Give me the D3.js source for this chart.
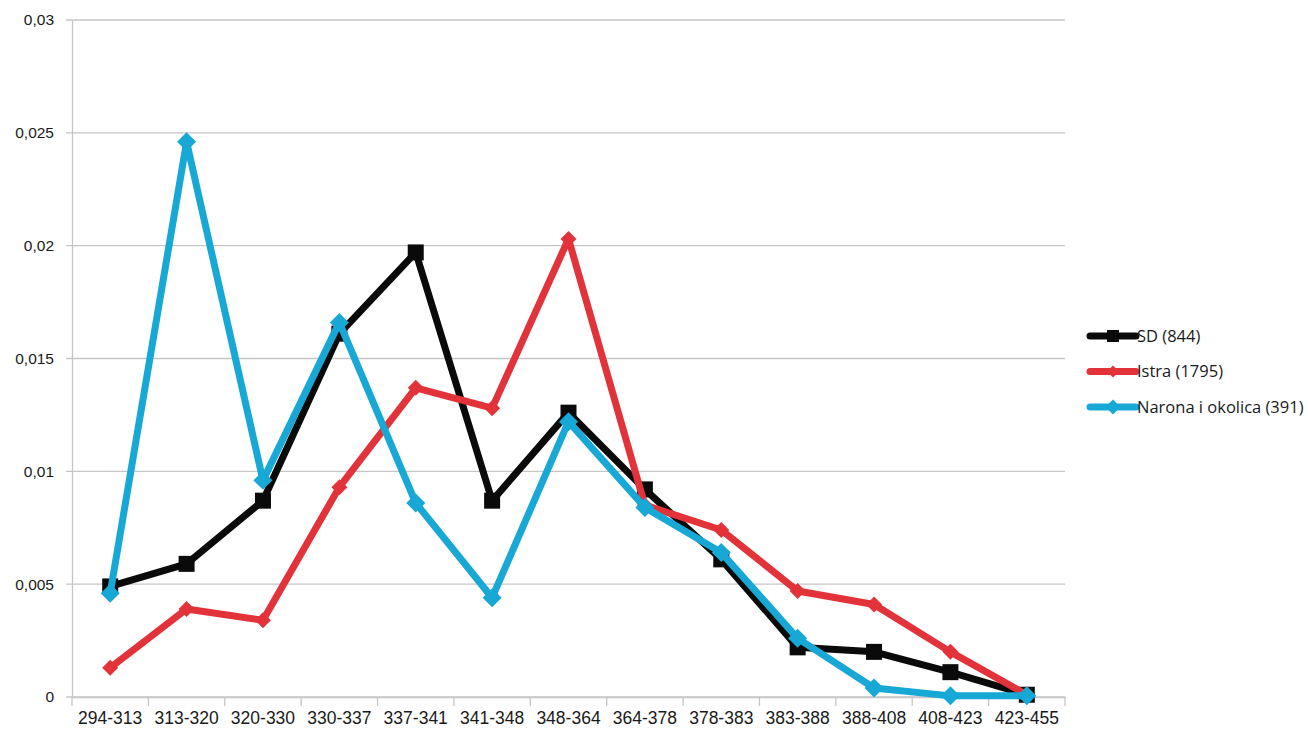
<!DOCTYPE html>
<html>
<head>
<meta charset="utf-8">
<script src="https://cdn.jsdelivr.net/npm/d3@7"></script>
<style>
  body { margin: 0; background: #fff; }
  svg { display: block; font-family: "Open Sans", sans-serif; }
</style>
</head>
<body>
<svg id="chart" width="1308" height="731"></svg>
<script>
// categories (x axis)
const categories = ["294-313", "313-320", "320-330", "330-337", "337-341", "341-348", "348-364",
                    "364-378", "378-383", "383-388", "388-408", "408-423", "423-455"];

// series values
const sdValues     = [0.0049, 0.0059, 0.0087, 0.0161, 0.0197, 0.0087, 0.0126, 0.0092, 0.0061, 0.0022, 0.0020, 0.0011, 0.0001];
const istraValues  = [0.0013, 0.0039, 0.0034, 0.0093, 0.0137, 0.0128, 0.0203, 0.0085, 0.0074, 0.0047, 0.0041, 0.0020, 0.0001];
const naronaValues = [0.0046, 0.0246, 0.0096, 0.0166, 0.0086, 0.0044, 0.0122, 0.0084, 0.0064, 0.0026, 0.0004, 0.00005, 0.00005];

const seriesNames = ["SD (844)", "Istra (1795)", "Narona i okolica (391)"];
const yTicks = [0, 0.005, 0.01, 0.015, 0.02, 0.025, 0.03];

const series = [
    { name: seriesNames[0], values: sdValues, color: "#0a0a0a", marker: "square", size: 16 },
    { name: seriesNames[1], values: istraValues, color: "#e3333a", marker: "diamond", size: 14 },
    { name: seriesNames[2], values: naronaValues, color: "#17a8d6", marker: "diamond", size: 17 }
];

const svg = d3.select("#chart");
const margin = { top: 20, right: 243, bottom: 34, left: 72 };
const width = 1308, height = 731;

const x = d3.scaleBand()
    .domain(categories)
    .range([margin.left, width - margin.right]);

const y = d3.scaleLinear()
    .domain([0, 0.03])
    .range([height - margin.bottom, margin.top]);

const fmt = (d) => d === 0 ? "0" : String(+d.toFixed(3)).replace(".", ",");

// gridlines
svg.append("g")
    .selectAll("line")
    .data(yTicks)
    .join("line")
    .attr("x1", margin.left - 6)
    .attr("x2", width - margin.right)
    .attr("y1", (d) => y(d))
    .attr("y2", (d) => y(d))
    .attr("stroke", "#c6c6c6")
    .attr("stroke-width", 1.3);

// y axis
const yAxis = svg.append("g")
    .attr("transform", `translate(${margin.left},0)`)
    .call(d3.axisLeft(y).tickValues(yTicks).tickFormat(fmt).tickSize(0).tickPadding(18));
yAxis.select(".domain").attr("stroke", "#c6c6c6").attr("stroke-width", 1.3);
yAxis.selectAll("text").attr("font-size", 15.5).attr("fill", "#1a1a1a");

// x axis
const xAxis = svg.append("g")
    .attr("transform", `translate(0,${height - margin.bottom})`)
    .call(d3.axisBottom(x).tickSize(0).tickPadding(15));
xAxis.select(".domain").attr("stroke", "#c6c6c6").attr("stroke-width", 1.3);
xAxis.selectAll("text").attr("font-size", 17.5).attr("fill", "#1a1a1a");

// x tick marks at band boundaries
svg.append("g")
    .selectAll("line")
    .data(categories.concat([null]))
    .join("line")
    .attr("x1", (d, i) => margin.left + i * x.step())
    .attr("x2", (d, i) => margin.left + i * x.step())
    .attr("y1", height - margin.bottom)
    .attr("y2", height - margin.bottom + 9)
    .attr("stroke", "#c6c6c6")
    .attr("stroke-width", 1.3);

const cx = (i) => x(categories[i]) + x.bandwidth() / 2;

const line = d3.line()
    .x((d, i) => cx(i))
    .y((d) => y(d));

function drawMarker(g, s, px, py) {
    if (s.marker === "square") {
        g.append("rect")
            .attr("x", px - s.size / 2)
            .attr("y", py - s.size / 2)
            .attr("width", s.size)
            .attr("height", s.size)
            .attr("fill", s.color);
    } else {
        const h = s.size / 2 + 1;
        g.append("path")
            .attr("d", `M${px},${py - h}L${px + h},${py}L${px},${py + h}L${px - h},${py}Z`)
            .attr("fill", s.color);
    }
}

// lines and markers
series.forEach((s) => {
    const g = svg.append("g");
    g.append("path")
        .datum(s.values)
        .attr("d", line)
        .attr("fill", "none")
        .attr("stroke", s.color)
        .attr("stroke-width", 7)
        .attr("stroke-linejoin", "round");
    s.values.forEach((v, i) => drawMarker(g, s, cx(i), y(v)));
});

// legend
const legend = svg.append("g").attr("transform", "translate(1090,336)");
series.forEach((s, i) => {
    const g = legend.append("g").attr("transform", `translate(0,${i * 35.5})`);
    g.append("line")
        .attr("x1", 0).attr("x2", 46)
        .attr("y1", 0).attr("y2", 0)
        .attr("stroke", s.color)
        .attr("stroke-width", 7)
        .attr("stroke-linecap", "round");
    drawMarker(g, { ...s, size: s.size - 4 }, 23, 0);
    g.append("text")
        .attr("x", 47)
        .attr("y", 0)
        .attr("dy", "0.35em")
        .attr("font-size", 16.5)
        .attr("fill", "#1a1a1a")
        .text(s.name);
});
</script>
</body>
</html>
